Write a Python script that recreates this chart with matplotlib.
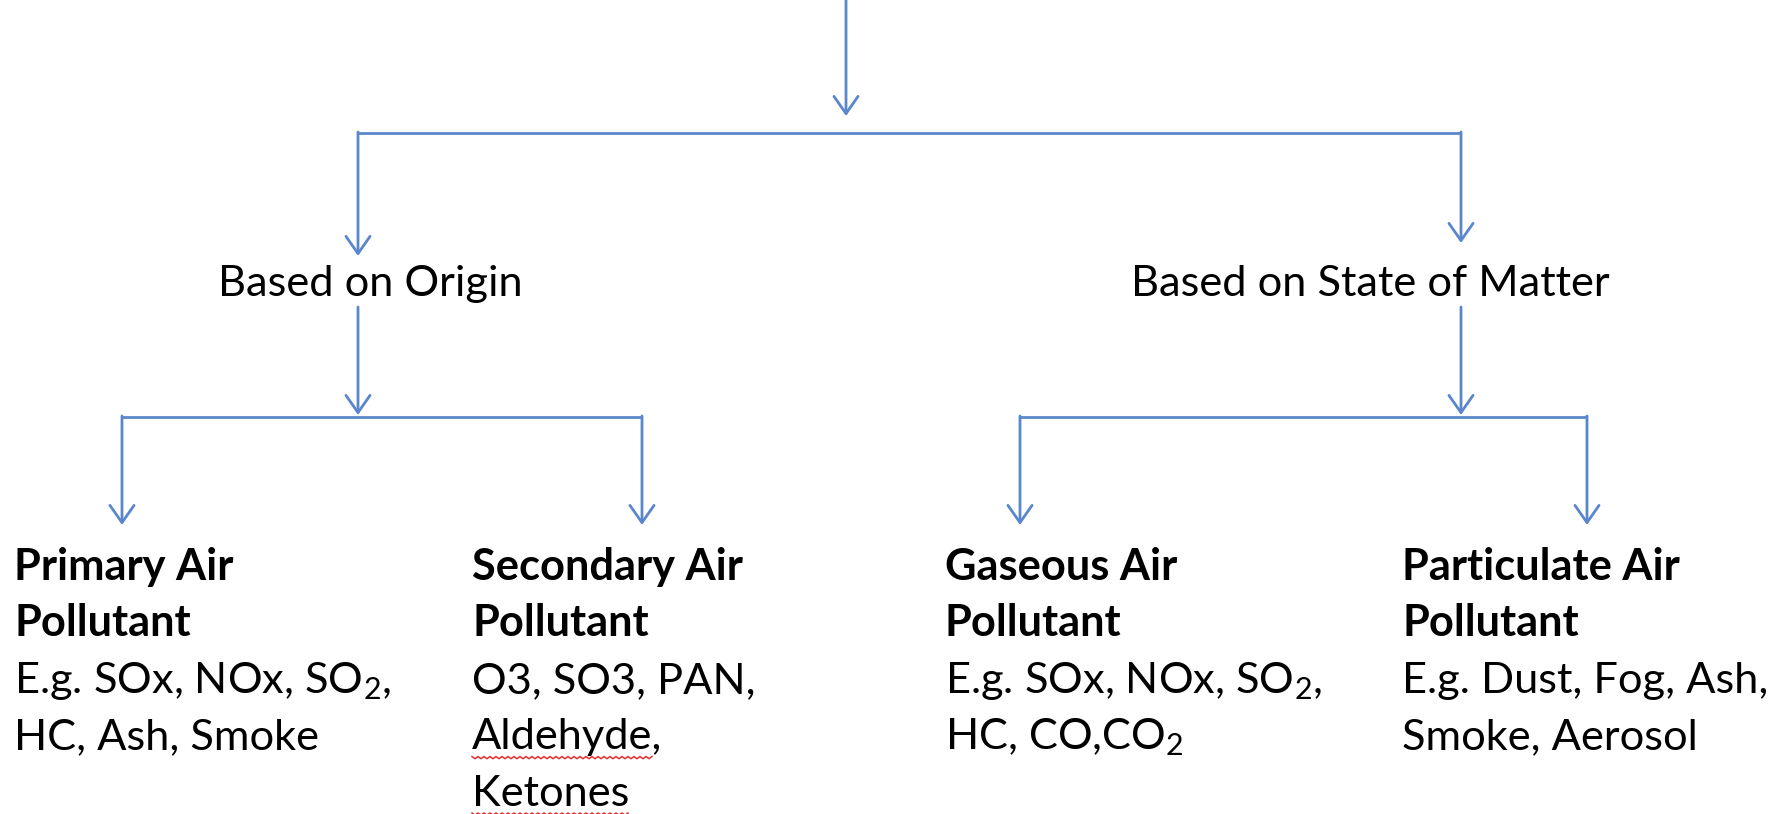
import numpy as np
import matplotlib
matplotlib.use("Agg")
import matplotlib.pyplot as plt

plt.rcParams['font.family'] = ['Lato', 'DejaVu Sans']
plt.rcParams['mathtext.fontset'] = 'custom'
plt.rcParams['mathtext.rm'] = 'Lato'
plt.rcParams['mathtext.it'] = 'Lato:italic'
plt.rcParams['mathtext.bf'] = 'Lato:bold'

# chart content
groups = ["Based on Origin", "Based on State of Matter"]
leaf_titles = [["Primary Air", "Pollutant"],
               ["Secondary Air", "Pollutant"],
               ["Gaseous Air", "Pollutant"],
               ["Particulate Air", "Pollutant"]]
leaf_examples = [["E.g. SOx, NOx, SO$_2$,", "HC, Ash, Smoke"],
                 ["O3, SO3, PAN,", "Aldehyde,", "Ketones"],
                 ["E.g. SOx, NOx, SO$_2$,", "HC, CO,CO$_2$"],
                 ["E.g. Dust, Fog, Ash,", "Smoke, Aerosol"]]
leaf_parent = [0, 0, 1, 1]
misspelled = ["Aldehyde,", "Ketones"]

# layout (pixels, y down)
W, H = 1779, 814
line_c = '#5A87CB'
top_x, top_y0, top_tip = 846, 0, 116
bar1_y = 133
group_x = [358, 1461]
group_text_x = [370, 1370]
group_tip = [256, 243]
group_text_y = 296          # baseline
group_line_y0 = 307
bar2_y = 417
group_tip2 = 415
leaf_x = [122, 642, 1020, 1587]
leaf_tip = 525
text_x = [14, 472, 945, 1402]
base_y0 = 580
line_h = 56.5
fs = 31.2

fig = plt.figure(figsize=(W / 100, H / 100), dpi=100)
ax = fig.add_axes([0, 0, 1, 1])
ax.set_xlim(0, W)
ax.set_ylim(H, 0)
ax.axis('off')

arrow_kw = dict(arrowstyle='->, head_length=0.4, head_width=0.28', color=line_c,
                lw=2, shrinkA=0, shrinkB=0, mutation_scale=31)


def arrow(x, y0, y1):
    ax.annotate('', xy=(x, y1), xytext=(x, y0), arrowprops=arrow_kw)


# top level
arrow(top_x, top_y0, top_tip)
ax.plot([group_x[0], group_x[1]], [bar1_y, bar1_y], color=line_c, lw=2,
        solid_capstyle='butt')
for gx, tip in zip(group_x, group_tip):
    arrow(gx, bar1_y - 1, tip)

# group labels
for gx, tx, g in zip(group_x, group_text_x, groups):
    ax.text(tx, group_text_y, g, fontsize=fs, ha='center', va='baseline', color='black')
    arrow(gx, group_line_y0, group_tip2)

# second level bars
for gi in range(len(groups)):
    xs = [leaf_x[i] for i in range(len(leaf_x)) if leaf_parent[i] == gi]
    ax.plot([min(xs), max(xs)], [bar2_y, bar2_y], color=line_c, lw=2,
            solid_capstyle='butt')
    for lx in xs:
        arrow(lx, bar2_y - 1, leaf_tip)

# leaf text
fig.canvas.draw()
inv = ax.transData.inverted()
for i in range(len(leaf_titles)):
    y = base_y0
    for t in leaf_titles[i]:
        ax.text(text_x[i], y, t, fontsize=fs, fontweight='bold', ha='left',
                va='baseline', color='black')
        y += line_h
    for t in leaf_examples[i]:
        txt = ax.text(text_x[i], y, t, fontsize=fs, ha='left', va='baseline',
                      color='black')
        if t in misspelled:
            bb = txt.get_window_extent(renderer=fig.canvas.get_renderer())
            x0, x1 = bb.x0, bb.x1 - (10 if t.endswith(',') else 0)
            zx = np.arange(x0, x1, 3.0)
            zy = (H - y) - 7 - 2.2 * (np.arange(len(zx)) % 2)
            pts = inv.transform(np.column_stack([zx, zy]))
            ax.plot(pts[:, 0], pts[:, 1], color='#E03030', lw=1.1)
        y += line_h

fig.savefig('out.png', dpi=100, facecolor='white')
